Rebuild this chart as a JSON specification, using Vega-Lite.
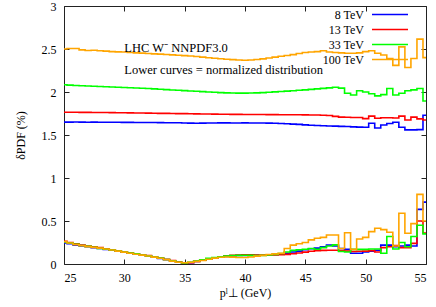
{
"$schema":"https://vega.github.io/schema/vega-lite/v6.json",
"width":362,"height":258,
"autosize":{"type":"none"},
"padding":{"left":64,"top":6,"right":10,"bottom":43},
"background":"white",
"config":{"view":{"stroke":"#222","strokeWidth":1},"font":"Liberation Serif",
 "text":{"font":"Liberation Serif"},
 "legend":{"labelFont":"Liberation Serif"},
 "axis":{"grid":false,"domain":false,"tickColor":"#222","tickSize":-5,"labelFont":"Liberation Serif","labelFontSize":12,"labelColor":"#000","titleFont":"Liberation Serif","titleFontSize":12,"titleFontWeight":"normal","titleColor":"#000"}},
"datasets":{"curves":[
{"g":25,"p":"u","8 TeV":1.650,"13 TeV":1.765,"33 TeV":2.085,"100 TeV":2.500},
{"g":25.5,"p":"u","8 TeV":1.650,"13 TeV":1.765,"33 TeV":2.080,"100 TeV":2.505},
{"g":26,"p":"u","8 TeV":1.651,"13 TeV":1.764,"33 TeV":2.076,"100 TeV":2.505},
{"g":26.5,"p":"u","8 TeV":1.650,"13 TeV":1.763,"33 TeV":2.073,"100 TeV":2.490},
{"g":27,"p":"u","8 TeV":1.649,"13 TeV":1.763,"33 TeV":2.070,"100 TeV":2.482},
{"g":27.5,"p":"u","8 TeV":1.650,"13 TeV":1.762,"33 TeV":2.067,"100 TeV":2.485},
{"g":28,"p":"u","8 TeV":1.649,"13 TeV":1.762,"33 TeV":2.064,"100 TeV":2.480},
{"g":28.5,"p":"u","8 TeV":1.648,"13 TeV":1.761,"33 TeV":2.061,"100 TeV":2.475},
{"g":29,"p":"u","8 TeV":1.648,"13 TeV":1.760,"33 TeV":2.058,"100 TeV":2.470},
{"g":29.5,"p":"u","8 TeV":1.648,"13 TeV":1.759,"33 TeV":2.055,"100 TeV":2.467},
{"g":30,"p":"u","8 TeV":1.647,"13 TeV":1.758,"33 TeV":2.052,"100 TeV":2.465},
{"g":30.5,"p":"u","8 TeV":1.647,"13 TeV":1.757,"33 TeV":2.049,"100 TeV":2.460},
{"g":31,"p":"u","8 TeV":1.646,"13 TeV":1.756,"33 TeV":2.046,"100 TeV":2.455},
{"g":31.5,"p":"u","8 TeV":1.646,"13 TeV":1.755,"33 TeV":2.043,"100 TeV":2.452},
{"g":32,"p":"u","8 TeV":1.645,"13 TeV":1.754,"33 TeV":2.040,"100 TeV":2.447},
{"g":32.5,"p":"u","8 TeV":1.645,"13 TeV":1.753,"33 TeV":2.036,"100 TeV":2.443},
{"g":33,"p":"u","8 TeV":1.644,"13 TeV":1.752,"33 TeV":2.032,"100 TeV":2.440},
{"g":33.5,"p":"u","8 TeV":1.643,"13 TeV":1.751,"33 TeV":2.028,"100 TeV":2.436},
{"g":34,"p":"u","8 TeV":1.643,"13 TeV":1.750,"33 TeV":2.024,"100 TeV":2.432},
{"g":34.5,"p":"u","8 TeV":1.642,"13 TeV":1.749,"33 TeV":2.020,"100 TeV":2.428},
{"g":35,"p":"u","8 TeV":1.640,"13 TeV":1.748,"33 TeV":2.016,"100 TeV":2.423},
{"g":35.5,"p":"u","8 TeV":1.638,"13 TeV":1.747,"33 TeV":2.012,"100 TeV":2.418},
{"g":36,"p":"u","8 TeV":1.636,"13 TeV":1.746,"33 TeV":2.008,"100 TeV":2.412},
{"g":36.5,"p":"u","8 TeV":1.638,"13 TeV":1.745,"33 TeV":2.004,"100 TeV":2.405},
{"g":37,"p":"u","8 TeV":1.640,"13 TeV":1.744,"33 TeV":2.000,"100 TeV":2.398},
{"g":37.5,"p":"u","8 TeV":1.640,"13 TeV":1.743,"33 TeV":1.997,"100 TeV":2.392},
{"g":38,"p":"u","8 TeV":1.641,"13 TeV":1.742,"33 TeV":1.993,"100 TeV":2.386},
{"g":38.5,"p":"u","8 TeV":1.641,"13 TeV":1.741,"33 TeV":1.990,"100 TeV":2.381},
{"g":39,"p":"u","8 TeV":1.640,"13 TeV":1.740,"33 TeV":1.988,"100 TeV":2.376},
{"g":39.5,"p":"u","8 TeV":1.640,"13 TeV":1.740,"33 TeV":1.987,"100 TeV":2.372},
{"g":40,"p":"u","8 TeV":1.641,"13 TeV":1.739,"33 TeV":1.987,"100 TeV":2.370},
{"g":40.5,"p":"u","8 TeV":1.640,"13 TeV":1.739,"33 TeV":1.988,"100 TeV":2.372},
{"g":41,"p":"u","8 TeV":1.640,"13 TeV":1.738,"33 TeV":1.990,"100 TeV":2.378},
{"g":41.5,"p":"u","8 TeV":1.639,"13 TeV":1.738,"33 TeV":1.993,"100 TeV":2.385},
{"g":42,"p":"u","8 TeV":1.638,"13 TeV":1.737,"33 TeV":1.997,"100 TeV":2.395},
{"g":42.5,"p":"u","8 TeV":1.636,"13 TeV":1.737,"33 TeV":2.001,"100 TeV":2.405},
{"g":43,"p":"u","8 TeV":1.633,"13 TeV":1.736,"33 TeV":2.006,"100 TeV":2.415},
{"g":43.5,"p":"u","8 TeV":1.630,"13 TeV":1.736,"33 TeV":2.010,"100 TeV":2.425},
{"g":44,"p":"u","8 TeV":1.627,"13 TeV":1.735,"33 TeV":2.015,"100 TeV":2.435},
{"g":44.5,"p":"u","8 TeV":1.623,"13 TeV":1.735,"33 TeV":2.020,"100 TeV":2.448},
{"g":45,"p":"u","8 TeV":1.618,"13 TeV":1.734,"33 TeV":2.025,"100 TeV":2.460},
{"g":45.5,"p":"u","8 TeV":1.614,"13 TeV":1.733,"33 TeV":2.030,"100 TeV":2.465},
{"g":46,"p":"u","8 TeV":1.610,"13 TeV":1.732,"33 TeV":2.036,"100 TeV":2.470},
{"g":46.5,"p":"u","8 TeV":1.607,"13 TeV":1.730,"33 TeV":2.042,"100 TeV":2.480},
{"g":47,"p":"u","8 TeV":1.604,"13 TeV":1.726,"33 TeV":2.048,"100 TeV":2.465},
{"g":47.5,"p":"u","8 TeV":1.603,"13 TeV":1.716,"33 TeV":2.055,"100 TeV":2.460},
{"g":48,"p":"u","8 TeV":1.600,"13 TeV":1.708,"33 TeV":2.045,"100 TeV":2.455},
{"g":48.5,"p":"u","8 TeV":1.598,"13 TeV":1.706,"33 TeV":1.985,"100 TeV":2.450},
{"g":49,"p":"u","8 TeV":1.595,"13 TeV":1.704,"33 TeV":1.965,"100 TeV":2.450},
{"g":49.5,"p":"u","8 TeV":1.592,"13 TeV":1.703,"33 TeV":2.015,"100 TeV":2.455},
{"g":50,"p":"u","8 TeV":1.590,"13 TeV":1.690,"33 TeV":2.000,"100 TeV":2.470},
{"g":50.5,"p":"u","8 TeV":1.636,"13 TeV":1.720,"33 TeV":1.980,"100 TeV":2.480},
{"g":51,"p":"u","8 TeV":1.582,"13 TeV":1.694,"33 TeV":1.955,"100 TeV":2.450},
{"g":51.5,"p":"u","8 TeV":1.616,"13 TeV":1.700,"33 TeV":1.970,"100 TeV":2.430},
{"g":52,"p":"u","8 TeV":1.634,"13 TeV":1.700,"33 TeV":2.040,"100 TeV":2.390},
{"g":52.5,"p":"u","8 TeV":1.648,"13 TeV":1.698,"33 TeV":1.965,"100 TeV":2.310},
{"g":53,"p":"u","8 TeV":1.590,"13 TeV":1.720,"33 TeV":1.985,"100 TeV":2.525},
{"g":53.5,"p":"u","8 TeV":1.560,"13 TeV":1.675,"33 TeV":2.015,"100 TeV":2.285},
{"g":54,"p":"u","8 TeV":1.560,"13 TeV":1.708,"33 TeV":2.025,"100 TeV":2.390},
{"g":54.5,"p":"u","8 TeV":1.563,"13 TeV":1.688,"33 TeV":2.040,"100 TeV":2.615},
{"g":55,"p":"u","8 TeV":1.730,"13 TeV":1.675,"33 TeV":1.895,"100 TeV":2.400},
{"g":25,"p":"l","8 TeV":0.245,"13 TeV":0.265,"33 TeV":0.255,"100 TeV":0.260},
{"g":25.5,"p":"l","8 TeV":0.235,"13 TeV":0.250,"33 TeV":0.245,"100 TeV":0.245},
{"g":26,"p":"l","8 TeV":0.220,"13 TeV":0.235,"33 TeV":0.230,"100 TeV":0.225},
{"g":26.5,"p":"l","8 TeV":0.210,"13 TeV":0.220,"33 TeV":0.215,"100 TeV":0.212},
{"g":27,"p":"l","8 TeV":0.200,"13 TeV":0.210,"33 TeV":0.205,"100 TeV":0.202},
{"g":27.5,"p":"l","8 TeV":0.190,"13 TeV":0.200,"33 TeV":0.195,"100 TeV":0.193},
{"g":28,"p":"l","8 TeV":0.180,"13 TeV":0.190,"33 TeV":0.182,"100 TeV":0.185},
{"g":28.5,"p":"l","8 TeV":0.170,"13 TeV":0.178,"33 TeV":0.172,"100 TeV":0.175},
{"g":29,"p":"l","8 TeV":0.160,"13 TeV":0.165,"33 TeV":0.162,"100 TeV":0.163},
{"g":29.5,"p":"l","8 TeV":0.150,"13 TeV":0.152,"33 TeV":0.152,"100 TeV":0.150},
{"g":30,"p":"l","8 TeV":0.138,"13 TeV":0.140,"33 TeV":0.140,"100 TeV":0.138},
{"g":30.5,"p":"l","8 TeV":0.125,"13 TeV":0.128,"33 TeV":0.128,"100 TeV":0.125},
{"g":31,"p":"l","8 TeV":0.115,"13 TeV":0.118,"33 TeV":0.118,"100 TeV":0.113},
{"g":31.5,"p":"l","8 TeV":0.105,"13 TeV":0.108,"33 TeV":0.105,"100 TeV":0.103},
{"g":32,"p":"l","8 TeV":0.095,"13 TeV":0.097,"33 TeV":0.095,"100 TeV":0.093},
{"g":32.5,"p":"l","8 TeV":0.080,"13 TeV":0.083,"33 TeV":0.082,"100 TeV":0.080},
{"g":33,"p":"l","8 TeV":0.065,"13 TeV":0.068,"33 TeV":0.068,"100 TeV":0.066},
{"g":33.5,"p":"l","8 TeV":0.050,"13 TeV":0.055,"33 TeV":0.052,"100 TeV":0.050},
{"g":34,"p":"l","8 TeV":0.035,"13 TeV":0.040,"33 TeV":0.037,"100 TeV":0.033},
{"g":34.5,"p":"l","8 TeV":0.020,"13 TeV":0.022,"33 TeV":0.020,"100 TeV":0.020},
{"g":35,"p":"l","8 TeV":0.008,"13 TeV":0.010,"33 TeV":0.012,"100 TeV":0.015},
{"g":35.5,"p":"l","8 TeV":0.015,"13 TeV":0.016,"33 TeV":0.020,"100 TeV":0.020},
{"g":36,"p":"l","8 TeV":0.030,"13 TeV":0.030,"33 TeV":0.035,"100 TeV":0.030},
{"g":36.5,"p":"l","8 TeV":0.045,"13 TeV":0.045,"33 TeV":0.050,"100 TeV":0.040},
{"g":37,"p":"l","8 TeV":0.058,"13 TeV":0.060,"33 TeV":0.065,"100 TeV":0.055},
{"g":37.5,"p":"l","8 TeV":0.070,"13 TeV":0.072,"33 TeV":0.075,"100 TeV":0.068},
{"g":38,"p":"l","8 TeV":0.080,"13 TeV":0.082,"33 TeV":0.085,"100 TeV":0.078},
{"g":38.5,"p":"l","8 TeV":0.088,"13 TeV":0.092,"33 TeV":0.092,"100 TeV":0.082},
{"g":39,"p":"l","8 TeV":0.094,"13 TeV":0.100,"33 TeV":0.098,"100 TeV":0.080},
{"g":39.5,"p":"l","8 TeV":0.098,"13 TeV":0.105,"33 TeV":0.100,"100 TeV":0.076},
{"g":40,"p":"l","8 TeV":0.100,"13 TeV":0.108,"33 TeV":0.102,"100 TeV":0.075},
{"g":40.5,"p":"l","8 TeV":0.100,"13 TeV":0.106,"33 TeV":0.100,"100 TeV":0.082},
{"g":41,"p":"l","8 TeV":0.100,"13 TeV":0.104,"33 TeV":0.098,"100 TeV":0.092},
{"g":41.5,"p":"l","8 TeV":0.102,"13 TeV":0.103,"33 TeV":0.100,"100 TeV":0.100},
{"g":42,"p":"l","8 TeV":0.105,"13 TeV":0.104,"33 TeV":0.105,"100 TeV":0.110},
{"g":42.5,"p":"l","8 TeV":0.110,"13 TeV":0.106,"33 TeV":0.112,"100 TeV":0.118},
{"g":43,"p":"l","8 TeV":0.115,"13 TeV":0.108,"33 TeV":0.122,"100 TeV":0.125},
{"g":43.5,"p":"l","8 TeV":0.125,"13 TeV":0.112,"33 TeV":0.140,"100 TeV":0.180},
{"g":44,"p":"l","8 TeV":0.140,"13 TeV":0.120,"33 TeV":0.158,"100 TeV":0.220},
{"g":44.5,"p":"l","8 TeV":0.150,"13 TeV":0.128,"33 TeV":0.165,"100 TeV":0.235},
{"g":45,"p":"l","8 TeV":0.165,"13 TeV":0.138,"33 TeV":0.172,"100 TeV":0.250},
{"g":45.5,"p":"l","8 TeV":0.178,"13 TeV":0.148,"33 TeV":0.180,"100 TeV":0.280},
{"g":46,"p":"l","8 TeV":0.185,"13 TeV":0.155,"33 TeV":0.172,"100 TeV":0.300},
{"g":46.5,"p":"l","8 TeV":0.200,"13 TeV":0.158,"33 TeV":0.190,"100 TeV":0.310},
{"g":47,"p":"l","8 TeV":0.220,"13 TeV":0.160,"33 TeV":0.210,"100 TeV":0.337},
{"g":47.5,"p":"l","8 TeV":0.210,"13 TeV":0.160,"33 TeV":0.222,"100 TeV":0.337},
{"g":48,"p":"l","8 TeV":0.180,"13 TeV":0.155,"33 TeV":0.145,"100 TeV":0.180},
{"g":48.5,"p":"l","8 TeV":0.170,"13 TeV":0.150,"33 TeV":0.140,"100 TeV":0.364},
{"g":49,"p":"l","8 TeV":0.125,"13 TeV":0.145,"33 TeV":0.170,"100 TeV":0.170},
{"g":49.5,"p":"l","8 TeV":0.125,"13 TeV":0.148,"33 TeV":0.170,"100 TeV":0.290},
{"g":50,"p":"l","8 TeV":0.140,"13 TeV":0.150,"33 TeV":0.170,"100 TeV":0.310},
{"g":50.5,"p":"l","8 TeV":0.150,"13 TeV":0.155,"33 TeV":0.175,"100 TeV":0.376},
{"g":51,"p":"l","8 TeV":0.160,"13 TeV":0.140,"33 TeV":0.175,"100 TeV":0.415},
{"g":51.5,"p":"l","8 TeV":0.220,"13 TeV":0.190,"33 TeV":0.125,"100 TeV":0.400},
{"g":52,"p":"l","8 TeV":0.220,"13 TeV":0.200,"33 TeV":0.320,"100 TeV":0.370},
{"g":52.5,"p":"l","8 TeV":0.200,"13 TeV":0.215,"33 TeV":0.175,"100 TeV":0.210},
{"g":53,"p":"l","8 TeV":0.210,"13 TeV":0.190,"33 TeV":0.250,"100 TeV":0.590},
{"g":53.5,"p":"l","8 TeV":0.220,"13 TeV":0.190,"33 TeV":0.200,"100 TeV":0.357},
{"g":54,"p":"l","8 TeV":0.210,"13 TeV":0.240,"33 TeV":0.320,"100 TeV":0.470},
{"g":54.5,"p":"l","8 TeV":0.635,"13 TeV":0.500,"33 TeV":0.450,"100 TeV":0.810},
{"g":55,"p":"l","8 TeV":0.720,"13 TeV":0.360,"33 TeV":0.350,"100 TeV":0.500}
]},
"resolve":{"axis":{"x":"independent","y":"independent"}},
"layer":[
 {"data":{"name":"curves"},
  "transform":[{"fold":["8 TeV","13 TeV","33 TeV","100 TeV"],"as":["energy","v"]}],
  "mark":{"type":"line","interpolate":"step","strokeWidth":1.6,"clip":true},
  "encoding":{
   "x":{"field":"g","type":"quantitative","scale":{"domain":[25,55],"nice":false,"zero":false},
        "axis":{"values":[25,30,35,40,45,50,55],"labelPadding":13,"labelFont":"Liberation Serif","titleFont":"Liberation Serif","title":"pˡ⊥ (GeV)","titlePadding":4}},
   "y":{"field":"v","type":"quantitative","scale":{"domain":[0,3],"nice":false},
        "axis":{"values":[0,0.5,1,1.5,2,2.5,3],"format":".1~f","labelPadding":13,"labelFont":"Liberation Serif","titleFont":"Liberation Serif","title":"δPDF (%)","titlePadding":14}},
   "color":{"field":"energy","type":"nominal",
     "scale":{"domain":["8 TeV","13 TeV","33 TeV","100 TeV"],"range":["#0000ff","#ff0000","#00ff00","#ffa500"]},
     "legend":{"orient":"none","legendX":319,"legendY":1.5,"title":null,"symbolType":"M-3,0H3","symbolSize":144,"symbolStrokeWidth":1.6,"labelAlign":"right","labelOffset":-33,"labelFontSize":12,"labelFont":"Liberation Serif","rowPadding":2}},
   "detail":{"field":"p"}
  }},
 {"data":{"values":[{}]},
  "mark":{"type":"point","opacity":0},
  "encoding":{
   "x":{"datum":25,"type":"quantitative","axis":{"orient":"top","values":[25,30,35,40,45,50,55],"labels":false,"title":null}},
   "y":{"datum":0,"type":"quantitative","axis":{"orient":"right","values":[0,0.5,1,1.5,2,2.5,3],"labels":false,"title":null}}
  }},
 {"data":{"values":[{}]},
  "mark":{"type":"text","align":"left","baseline":"middle","fontSize":12.5,"font":"Liberation Serif"},
  "encoding":{"x":{"datum":30,"type":"quantitative","axis":null},"y":{"datum":2.51,"type":"quantitative","axis":null},"text":{"value":"LHC W⁻ NNPDF3.0"}}},
 {"data":{"values":[{}]},
  "mark":{"type":"text","align":"left","baseline":"middle","fontSize":12.5,"font":"Liberation Serif"},
  "encoding":{"x":{"datum":30,"type":"quantitative","axis":null},"y":{"datum":2.26,"type":"quantitative","axis":null},"text":{"value":"Lower curves = normalized distribution"}}}
]
}
